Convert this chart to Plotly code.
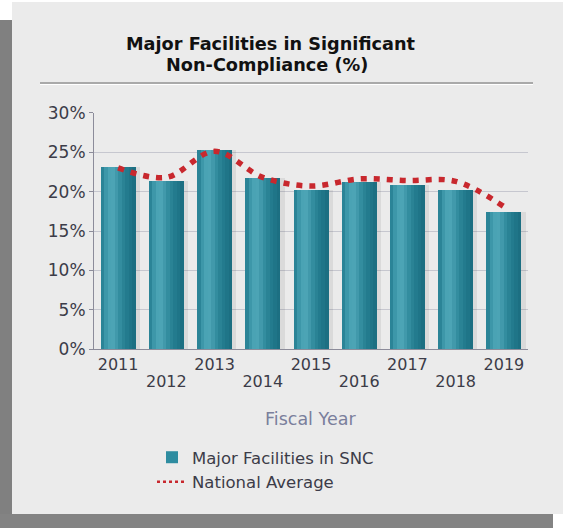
import plotly.graph_objects as go

# Fiscal years and percentages
years = ["2011", "2012", "2013", "2014", "2015", "2016", "2017", "2018", "2019"]
snc_pct = [23.1, 21.4, 25.3, 21.8, 20.3, 21.3, 20.9, 20.3, 17.4]
national_avg = [23.0, 21.8, 25.1, 21.8, 20.7, 21.6, 21.4, 21.3, 18.1]
y_ticks = [0, 5, 10, 15, 20, 25, 30]

W, H = 563, 528
FONT = "DejaVu Sans"
BAR_W = 0.725
TEXT = "#3c3c48"

# horizontal shading across each bar, left edge to right edge
strip_colors = ["#2b8497", "#3d97a9", "#4aa3b4", "#4ca4b5", "#4199ab",
                "#338d9f", "#2a8395", "#237b8e", "#1f7588", "#1c6f82"]


def px(x):
    return x / W


def py(y):
    return 1 - y / H


fig = go.Figure()

# soft shadow to the right of the bars
fig.add_trace(go.Bar(x=years, y=snc_pct, width=BAR_W, offset=-BAR_W / 2 + 0.09,
                     marker=dict(color="rgba(0,0,0,0.07)", line=dict(width=0)),
                     showlegend=False, hoverinfo="skip"))

# base bar (carries the legend entry)
fig.add_trace(go.Bar(x=years, y=snc_pct, width=BAR_W, offset=-BAR_W / 2,
                     name="Major Facilities in SNC",
                     marker=dict(color="#2e8ca0", line=dict(width=0))))

n = len(strip_colors)
sw = BAR_W / n
for i, c in enumerate(strip_colors):
    fig.add_trace(go.Bar(x=years, y=snc_pct, width=sw * 1.02,
                         offset=-BAR_W / 2 + i * sw,
                         marker=dict(color=c, line=dict(width=0)),
                         showlegend=False, hoverinfo="skip"))

fig.add_trace(go.Scatter(x=years, y=national_avg, mode="lines",
                         name="National Average", showlegend=False,
                         line=dict(color="#c8282e", width=5.5, dash="6px,7px",
                                   shape="spline", smoothing=1.0)))
# legend key for the national average (finer dots)
fig.add_trace(go.Scatter(x=[None], y=[None], mode="lines",
                         name="National Average",
                         line=dict(color="#c8282e", width=2.5, dash="3px,3px")))

# second x axis carrying the staggered (even-year) labels
fig.add_trace(go.Scatter(x=years, y=[None] * len(years), xaxis="x2",
                         mode="markers", showlegend=False, hoverinfo="skip"))

shapes = [
    # left and bottom drop shadow of the panel
    dict(type="rect", xref="paper", yref="paper", x0=0, x1=px(13),
         y0=0, y1=py(20), fillcolor="#808080", line=dict(width=0), layer="below"),
    dict(type="rect", xref="paper", yref="paper", x0=0, x1=px(553),
         y0=0, y1=py(514), fillcolor="#838383", line=dict(width=0), layer="below"),
    # panel
    dict(type="rect", xref="paper", yref="paper", x0=px(12), x1=1,
         y0=py(514), y1=py(2), fillcolor="#ebebeb", line=dict(width=0), layer="below"),
    # rule under the title
    dict(type="line", xref="paper", yref="paper", x0=px(40), x1=px(533),
         y0=py(83), y1=py(83), line=dict(color="#a9a9a9", width=2), layer="below"),
    dict(type="line", xref="paper", yref="paper", x0=px(40), x1=px(533),
         y0=py(84.5), y1=py(84.5), line=dict(color="#ffffff", width=1), layer="below"),
]

x_domain = [px(94), px(528)]

fig.update_layout(
    width=W, height=H, autosize=False,
    margin=dict(l=0, r=0, t=0, b=0, autoexpand=False),
    paper_bgcolor="#ffffff", plot_bgcolor="rgba(0,0,0,0)",
    barmode="overlay", bargap=0,
    shapes=shapes,
    font=dict(family=FONT, color=TEXT),
    xaxis=dict(domain=x_domain, type="category",
               range=[-0.5, len(years) - 0.5],
               tickvals=years[0::2], ticktext=years[0::2],
               tickfont=dict(size=16, color=TEXT), ticklabelstandoff=0,
               showline=True, linecolor="#8c8c9a", linewidth=1,
               showgrid=False, ticks="", fixedrange=True),
    xaxis2=dict(domain=x_domain, type="category", overlaying="x", matches="x",
                anchor="y", side="bottom",
                tickvals=years[1::2], ticktext=years[1::2],
                tickfont=dict(size=16, color=TEXT), ticklabelstandoff=21,
                showline=False, showgrid=False, ticks="", fixedrange=True),
    yaxis=dict(domain=[py(349.3), py(112.7)], range=[0, 30],
               tickvals=y_ticks, ticktext=[f"{v}%" for v in y_ticks],
               tickfont=dict(size=17, color=TEXT),
               showline=True, linecolor="#8c8c9a", linewidth=1,
               ticks="outside", ticklen=4, tickcolor="#8c8c9a",
               showgrid=True, gridcolor="#c6c7cf", gridwidth=1,
               zeroline=False, fixedrange=True),
    legend=dict(x=px(152), y=py(440), xanchor="left", yanchor="top",
                bgcolor="rgba(0,0,0,0)", font=dict(size=16.5, color=TEXT),
                tracegroupgap=0, itemwidth=30),
    annotations=[
        dict(text="<b>Major Facilities in Significant</b>",
             xref="paper", yref="paper", x=px(271), y=py(44),
             xanchor="center", yanchor="middle", showarrow=False,
             font=dict(family=FONT, size=17.7, color="#111111")),
        dict(text="<b>Non-Compliance (%)</b>",
             xref="paper", yref="paper", x=px(267), y=py(65),
             xanchor="center", yanchor="middle", showarrow=False,
             font=dict(family=FONT, size=17.7, color="#111111")),
        dict(text="Fiscal Year", xref="paper", yref="paper",
             x=px(310), y=py(419), xanchor="center", yanchor="middle",
             showarrow=False, font=dict(family=FONT, size=17.5, color="#7a7f9c")),
    ],
)

fig.write_html("out.html")
